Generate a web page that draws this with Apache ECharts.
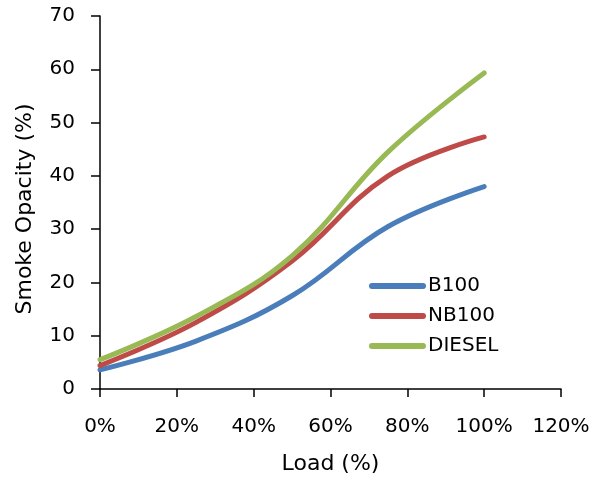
<!DOCTYPE html>
<html>
<head>
<meta charset="utf-8">
<script src="https://cdn.jsdelivr.net/npm/echarts@6/dist/echarts.min.js"></script>
<style>html,body{margin:0;padding:0;background:#fff;}#c{width:602px;height:480px;}</style>
</head>
<body>
<div id="c"></div>
<script>
const loads = [0, 25, 50, 75, 100];
const b100 = [3.6, 9.0, 17.5, 30.5, 38.0];
const nb100 = [4.4, 12.5, 24.0, 40.0, 47.3];
const diesel = [5.5, 13.6, 25.0, 44.5, 59.3];
const seriesNames = ['B100', 'NB100', 'DIESEL'];
const colors = ['#4a7ebb', '#be4b48', '#98b954'];

const FONT = 'DejaVu Sans';
const chart = echarts.init(document.getElementById('c'), null, {renderer: 'canvas'});
const pair = arr => loads.map((x, i) => [x, arr[i]]);
const datasets = [b100, nb100, diesel];

chart.setOption({
  animation: false,
  backgroundColor: '#fff',
  textStyle: {fontFamily: FONT},
  grid: {left: 100, right: 41, top: 16, bottom: 91, outerBoundsMode: 'none', containLabel: false},
  legend: {
    data: seriesNames.map(n => ({name: n, icon: 'path://M3,0 H54 A3,3 0 0 1 54,6 H3 A3,3 0 0 1 3,0 Z'})),
    orient: 'vertical',
    left: 364,
    top: 271,
    itemWidth: 57,
    itemHeight: 6,
    itemGap: 10,
    textStyle: {fontFamily: FONT, fontSize: 20, color: '#000', padding: [0, 0, 0, -3]}
  },
  xAxis: {
    type: 'value',
    min: 0, max: 120, interval: 20,
    name: 'Load (%)',
    nameLocation: 'middle',
    nameGap: 64,
    nameTextStyle: {fontFamily: FONT, fontSize: 22, color: '#000'},
    axisLine: {lineStyle: {color: '#000', width: 1.5}},
    axisTick: {show: true, inside: false, length: 8, lineStyle: {color: '#000', width: 1.5}},
    axisLabel: {formatter: v => v + '%', fontFamily: FONT, fontSize: 20, color: '#000', margin: 28},
    splitLine: {show: false}
  },
  yAxis: {
    type: 'value',
    min: 0, max: 70, interval: 10,
    name: 'Smoke Opacity (%)',
    nameLocation: 'middle',
    nameGap: 64,
    nameTextStyle: {fontFamily: FONT, fontSize: 22, color: '#000', padding: [0, 13, 0, 0]},
    axisLine: {show: true, lineStyle: {color: '#000', width: 1.5}},
    axisTick: {show: true, inside: false, length: 9, lineStyle: {color: '#000', width: 1.5}},
    axisLabel: {fontFamily: FONT, fontSize: 20, color: '#000', margin: 25},
    splitLine: {show: false}
  },
  series: datasets.map((d, i) => ({
    name: seriesNames[i],
    type: 'line',
    data: pair(d),
    smooth: 0.4,
    symbol: 'none',
    showSymbol: false,
    color: colors[i],
    lineStyle: {color: colors[i], width: 5, cap: 'round'},
    itemStyle: {color: colors[i]}
  }))
});
</script>
</body>
</html>
